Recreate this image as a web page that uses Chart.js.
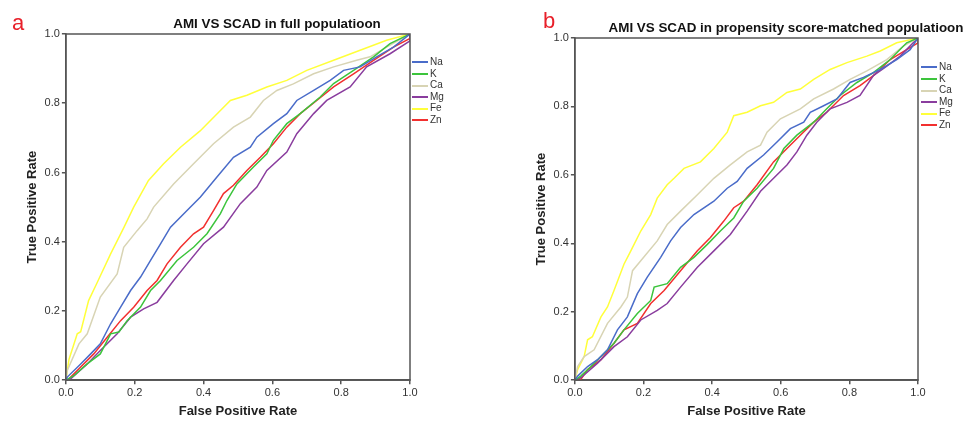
<!DOCTYPE html>
<html>
<head>
<meta charset="utf-8">
<script src="https://cdn.jsdelivr.net/npm/chart.js@4.4.1/dist/chart.umd.min.js"></script>
<style>
  body { margin: 0; background: #fff; font-family: Arial, "Liberation Sans", sans-serif; }
  #wrap { position: relative; width: 966px; height: 421px; overflow: hidden; }
  .panel { position: absolute; top: 0; height: 421px; }
  .letra { position: absolute; color: #e8202a; font-size: 22px; line-height: 22px; }
  .titulo { position: absolute; font-weight: bold; font-size: 13.4px; color: #111; white-space: nowrap; transform: translateX(-50%); }
  .leyenda { position: absolute; font-size: 10px; color: #333; }
  .leyenda div { height: 11.6px; line-height: 11.6px; white-space: nowrap; }
  .leyenda span { display: inline-block; width: 16px; height: 2px; vertical-align: middle; margin-right: 2px; }
</style>
</head>
<body>
<div id="wrap">
  <div class="panel" style="left:0;width:480px"><canvas id="chartA"></canvas></div>
  <div class="panel" style="left:480px;width:486px"><canvas id="chartB"></canvas></div>
  <div class="letra" style="left:12px;top:12px">a</div>
  <div class="letra" style="left:543px;top:10px">b</div>
  <div class="titulo" style="left:277px;top:16px">AMI VS SCAD in full populatioon</div>
  <div class="titulo" style="left:786px;top:20px">AMI VS SCAD in propensity score-matched populatioon</div>
  <div class="leyenda" id="leyendaA" style="left:412px;top:56px"></div>
  <div class="leyenda" id="leyendaB" style="left:921px;top:61px"></div>
</div>
<script>
const series = ["Na", "K", "Ca", "Mg", "Fe", "Zn"];
const colores = ["#4a6cc9", "#3cc43c", "#d8d4b4", "#8a3d9e", "#ffff3a", "#f2302f"];
const ticksEje = [0, 0.2, 0.4, 0.6, 0.8, 1.0];

// panel a: poblacion completa (FPR, TPR)
const naFull = [[0,0],[0.004,0.009],[0.043,0.047],[0.072,0.076],[0.10,0.105],[0.13,0.163],[0.159,0.211],[0.188,0.259],[0.217,0.298],[0.246,0.346],[0.275,0.394],[0.304,0.442],[0.352,0.49],[0.391,0.529],[0.439,0.587],[0.487,0.644],[0.536,0.673],[0.555,0.702],[0.603,0.741],[0.642,0.77],[0.671,0.808],[0.72,0.837],[0.768,0.866],[0.807,0.895],[0.855,0.905],[0.903,0.934],[0.952,0.962],[1,1]];
const kFull = [[0,0],[0.023,0.013],[0.062,0.047],[0.10,0.076],[0.13,0.134],[0.154,0.139],[0.178,0.172],[0.217,0.211],[0.246,0.259],[0.275,0.288],[0.323,0.346],[0.371,0.384],[0.41,0.423],[0.449,0.481],[0.468,0.519],[0.497,0.567],[0.545,0.616],[0.584,0.654],[0.603,0.693],[0.642,0.741],[0.681,0.77],[0.739,0.818],[0.778,0.857],[0.836,0.895],[0.894,0.934],[0.942,0.972],[1,1]];
const caFull = [[0,0],[0.004,0.028],[0.038,0.105],[0.062,0.134],[0.10,0.24],[0.149,0.307],[0.168,0.384],[0.207,0.432],[0.236,0.466],[0.255,0.50],[0.313,0.567],[0.371,0.625],[0.429,0.683],[0.487,0.731],[0.536,0.76],[0.574,0.808],[0.613,0.837],[0.661,0.856],[0.72,0.885],[0.778,0.905],[0.845,0.924],[0.884,0.934],[0.932,0.962],[1,1]];
const mgFull = [[0,0],[0.014,0.004],[0.062,0.047],[0.10,0.086],[0.149,0.134],[0.188,0.182],[0.226,0.206],[0.265,0.225],[0.313,0.288],[0.352,0.336],[0.40,0.394],[0.458,0.442],[0.507,0.51],[0.555,0.558],[0.584,0.606],[0.642,0.659],[0.671,0.712],[0.72,0.77],[0.758,0.808],[0.826,0.847],[0.874,0.905],[0.942,0.943],[1,0.98],[1,1]];
const feFull = [[0,0],[0.009,0.06],[0.033,0.134],[0.043,0.14],[0.066,0.23],[0.09,0.28],[0.13,0.365],[0.168,0.44],[0.197,0.50],[0.24,0.577],[0.284,0.625],[0.333,0.673],[0.39,0.72],[0.449,0.779],[0.478,0.808],[0.526,0.823],[0.584,0.847],[0.642,0.866],[0.70,0.895],[0.778,0.924],[0.855,0.953],[0.932,0.982],[1,1]];
const znFull = [[0,0],[0.009,0.004],[0.043,0.038],[0.081,0.076],[0.12,0.124],[0.159,0.172],[0.197,0.211],[0.236,0.259],[0.265,0.288],[0.294,0.336],[0.333,0.384],[0.371,0.423],[0.40,0.442],[0.429,0.49],[0.458,0.539],[0.487,0.563],[0.526,0.606],[0.565,0.644],[0.603,0.683],[0.642,0.731],[0.681,0.77],[0.729,0.808],[0.778,0.847],[0.836,0.885],[0.894,0.924],[0.952,0.962],[1,0.987],[1,1]];

// panel b: poblacion emparejada por propensity score
const naPsm = [[0,0],[0.008,0.012],[0.037,0.04],[0.066,0.06],[0.095,0.089],[0.124,0.147],[0.153,0.185],[0.182,0.253],[0.211,0.301],[0.25,0.359],[0.279,0.407],[0.308,0.446],[0.347,0.484],[0.405,0.523],[0.444,0.561],[0.473,0.581],[0.502,0.619],[0.55,0.658],[0.589,0.696],[0.628,0.735],[0.667,0.754],[0.686,0.783],[0.725,0.802],[0.764,0.822],[0.802,0.87],[0.841,0.885],[0.89,0.908],[0.938,0.937],[0.977,0.966],[1,1]];
const kPsm = [[0,0],[0.017,0.012],[0.047,0.04],[0.076,0.069],[0.114,0.108],[0.143,0.147],[0.182,0.195],[0.221,0.233],[0.231,0.272],[0.269,0.282],[0.308,0.33],[0.347,0.359],[0.386,0.397],[0.424,0.436],[0.463,0.474],[0.492,0.523],[0.531,0.561],[0.579,0.619],[0.609,0.677],[0.647,0.716],[0.696,0.754],[0.734,0.793],[0.773,0.832],[0.822,0.87],[0.87,0.899],[0.919,0.937],[0.967,0.986],[1,1]];
const caPsm = [[0,0],[0.008,0.04],[0.027,0.069],[0.056,0.089],[0.095,0.166],[0.134,0.214],[0.153,0.243],[0.168,0.32],[0.192,0.349],[0.24,0.407],[0.269,0.455],[0.308,0.494],[0.357,0.542],[0.405,0.59],[0.453,0.629],[0.502,0.667],[0.541,0.687],[0.56,0.725],[0.599,0.764],[0.657,0.793],[0.696,0.822],[0.754,0.851],[0.802,0.879],[0.851,0.904],[0.909,0.937],[0.957,0.976],[1,1]];
const mgPsm = [[0,0],[0.017,0.007],[0.066,0.05],[0.114,0.098],[0.153,0.127],[0.192,0.176],[0.24,0.204],[0.269,0.224],[0.308,0.272],[0.357,0.33],[0.405,0.378],[0.453,0.426],[0.502,0.494],[0.541,0.552],[0.579,0.59],[0.618,0.629],[0.647,0.667],[0.676,0.716],[0.705,0.754],[0.744,0.793],[0.793,0.812],[0.831,0.832],[0.87,0.89],[0.909,0.918],[0.948,0.947],[0.986,0.986],[1,1]];
const fePsm = [[0,0],[0.008,0.031],[0.027,0.069],[0.037,0.118],[0.051,0.127],[0.076,0.185],[0.095,0.214],[0.114,0.262],[0.143,0.339],[0.163,0.378],[0.192,0.436],[0.221,0.484],[0.24,0.532],[0.269,0.571],[0.289,0.59],[0.318,0.619],[0.366,0.638],[0.405,0.677],[0.444,0.725],[0.463,0.773],[0.502,0.783],[0.541,0.802],[0.579,0.812],[0.618,0.841],[0.657,0.851],[0.696,0.879],[0.744,0.908],[0.793,0.928],[0.851,0.947],[0.89,0.962],[0.938,0.986],[1,1]];
const znPsm = [[0,0],[0.017,0.002],[0.037,0.031],[0.076,0.06],[0.114,0.108],[0.143,0.147],[0.182,0.166],[0.221,0.224],[0.26,0.262],[0.308,0.32],[0.357,0.378],[0.395,0.417],[0.434,0.465],[0.463,0.504],[0.492,0.523],[0.531,0.571],[0.579,0.638],[0.618,0.677],[0.657,0.716],[0.696,0.754],[0.734,0.783],[0.783,0.832],[0.831,0.861],[0.87,0.89],[0.919,0.937],[0.967,0.966],[1,0.986],[1,1]];

const datosFull = [naFull, kFull, caFull, mgFull, feFull, znFull];
const datosPsm = [naPsm, kPsm, caPsm, mgPsm, fePsm, znPsm];

const fuente = "Arial, 'Liberation Sans', sans-serif";

// marco superior y derecho del area de grafico
const marco = {
  id: "marco",
  afterDraw(chart) {
    const a = chart.chartArea;
    const ctx = chart.ctx;
    ctx.save();
    ctx.strokeStyle = "#555";
    ctx.lineWidth = 1.5;
    ctx.strokeRect(a.left, a.top, a.right - a.left, a.bottom - a.top);
    ctx.restore();
  },
};

function ejeConfig(titulo, tituloPadding) {
  return {
    type: "linear",
    min: 0,
    max: 1,
    afterBuildTicks: (axis) => { axis.ticks = ticksEje.map((v) => ({ value: v })); },
    ticks: {
      color: "#333",
      padding: 2,
      font: { family: fuente, size: 11 },
      callback: (v) => Number(v).toFixed(1),
    },
    grid: { drawOnChartArea: false, drawTicks: true, tickLength: 4, color: "#555", lineWidth: 1.5 },
    border: { display: true, color: "#555", width: 1.5 },
    title: {
      display: true,
      text: titulo,
      color: "#222",
      padding: tituloPadding,
      font: { family: fuente, size: 13, weight: "bold" },
    },
  };
}

function crearGrafico(id, datos, padding) {
  const canvas = document.getElementById(id);
  return new Chart(canvas, {
    type: "scatter",
    data: {
      datasets: series.map((nombre, i) => ({
        label: nombre,
        data: datos[i].map((p) => ({ x: p[0], y: p[1] })),
        showLine: true,
        borderColor: colores[i],
        backgroundColor: colores[i],
        borderWidth: 1.5,
        pointRadius: 0,
        tension: 0,
      })),
    },
    options: {
      responsive: true,
      maintainAspectRatio: false,
      animation: false,
      layout: { padding: padding },
      plugins: { legend: { display: false }, tooltip: { enabled: false } },
      scales: {
        x: ejeConfig("False Positive Rate", { top: 2, bottom: 2 }),
        y: ejeConfig("True Positive Rate", { top: 4, bottom: 2 }),
      },
    },
    plugins: [marco],
  });
}

function crearLeyenda(id) {
  const box = document.getElementById(id);
  series.forEach((nombre, i) => {
    const fila = document.createElement("div");
    const linea = document.createElement("span");
    linea.style.background = colores[i];
    fila.appendChild(linea);
    fila.appendChild(document.createTextNode(nombre));
    box.appendChild(fila);
  });
}

crearGrafico("chartA", datosFull, { left: 21, right: 70, top: 34, bottom: 0 });
crearGrafico("chartB", datosPsm, { left: 50, right: 48, top: 38, bottom: 0 });
crearLeyenda("leyendaA");
crearLeyenda("leyendaB");
</script>
</body>
</html>
